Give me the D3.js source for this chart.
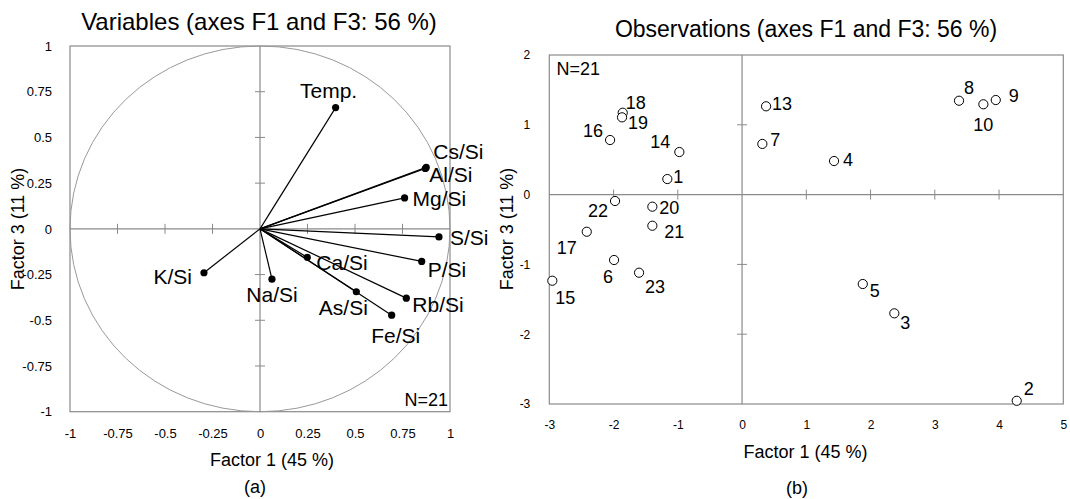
<!DOCTYPE html>
<html>
<head>
<meta charset="utf-8">
<script src="https://cdn.jsdelivr.net/npm/d3@7"></script>
<style>
  body { margin: 0; background: #fff; }
  svg { display: block; font-family: "Liberation Sans", Arial, sans-serif; }
</style>
</head>
<body>
<div id="chart"></div>
<script>
// ---- data ----
const varNames = ["Temp.", "Cs/Si", "Al/Si", "Mg/Si", "S/Si", "P/Si", "Rb/Si", "Fe/Si", "As/Si", "Ca/Si", "Na/Si", "K/Si"];
const varF1 = [0.398, 0.875, 0.870, 0.761, 0.942, 0.851, 0.770, 0.693, 0.507, 0.249, 0.063, -0.295];
const varF3 = [0.663, 0.336, 0.330, 0.169, -0.044, -0.178, -0.379, -0.472, -0.344, -0.156, -0.275, -0.240];

const obsIds = ["1", "2", "3", "4", "5", "6", "7", "8", "9", "10", "13", "14", "15", "16", "17", "18", "19", "20", "21", "22", "23"];
const obsF1 = [-1.163, 4.275, 2.370, 1.432, 1.879, -1.992, 0.316, 3.377, 3.949, 3.756, 0.374, -0.976, -2.953, -2.054, -2.417, -1.857, -1.868, -1.396, -1.396, -1.977, -1.603];
const obsF3 = [0.223, -2.954, -1.701, 0.481, -1.281, -0.937, 0.726, 1.345, 1.355, 1.294, 1.265, 0.610, -1.234, 0.782, -0.532, 1.173, 1.107, -0.173, -0.446, -0.092, -1.119];

const leftTicks = [-1, -0.75, -0.5, -0.25, 0, 0.25, 0.5, 0.75, 1];
const rightXTicks = [-3, -2, -1, 0, 1, 2, 3, 4, 5];
const rightYTicks = [-3, -2, -1, 0, 1, 2];

// label placement (dx, dy, anchor) for each variable / observation
const varLabelPos = {
  "Temp.": [-7, -10, "middle"], "Cs/Si": [7, -8, "start"], "Al/Si": [4, 13, "start"],
  "Mg/Si": [8, 8, "start"], "S/Si": [11, 8, "start"], "P/Si": [6, 16, "start"],
  "Rb/Si": [6, 14, "start"], "Fe/Si": [4, 28, "middle"], "As/Si": [-13, 23, "middle"],
  "Ca/Si": [9, 13, "start"], "Na/Si": [0, 23, "middle"], "K/Si": [-12, 11, "end"]
};
const obsLabelPos = {
  "1": [6, 4, "start"], "2": [7, -6, "start"], "3": [6, 16, "start"], "4": [9, 5, "start"],
  "5": [7, 13, "start"], "6": [-1, 23, "end"], "7": [8, 2, "start"], "8": [5, -7, "start"],
  "9": [13, 2, "start"], "10": [0, 27, "middle"], "13": [6, 4, "start"], "14": [-9, -4, "end"],
  "15": [3, 23, "start"], "16": [-7, -3, "end"], "17": [-10, 22, "end"], "18": [3, -4, "start"],
  "19": [6, 12, "start"], "20": [7, 7, "start"], "21": [12, 12, "start"], "22": [-7, 16, "end"],
  "23": [6, 20, "start"]
};

const width = 1070, height = 499;
const grey = "#8a8a8a";

const svg = d3.select("#chart").append("svg")
  .attr("width", width)
  .attr("height", height);

//////////////////////////////////////
////////// (a) Variables /////////////
//////////////////////////////////////
const xL = d3.scaleLinear().domain([-1, 1]).range([70, 450]);
const yL = d3.scaleLinear().domain([-1, 1]).range([411.7, 46]);

const gL = svg.append("g");

gL.append("rect")
  .attr("x", xL(-1)).attr("y", yL(1))
  .attr("width", xL(1) - xL(-1)).attr("height", yL(-1) - yL(1))
  .attr("fill", "none").attr("stroke", grey).attr("stroke-width", 1.2);

// correlation circle
gL.append("ellipse")
  .attr("cx", xL(0)).attr("cy", yL(0))
  .attr("rx", xL(1) - xL(0)).attr("ry", yL(0) - yL(1))
  .attr("fill", "none").attr("stroke", "#999").attr("stroke-width", 1);

// zero lines + ticks
gL.append("line").attr("x1", xL(-1)).attr("x2", xL(1)).attr("y1", yL(0)).attr("y2", yL(0))
  .attr("stroke", grey).attr("stroke-width", 1.2);
gL.append("line").attr("x1", xL(0)).attr("x2", xL(0)).attr("y1", yL(1)).attr("y2", yL(-1))
  .attr("stroke", grey).attr("stroke-width", 1.2);
gL.selectAll(".xtick").data(leftTicks.filter(d => Math.abs(d) !== 1 && d !== 0)).join("line")
  .attr("x1", d => xL(d)).attr("x2", d => xL(d))
  .attr("y1", yL(0) - 5).attr("y2", yL(0) + 5).attr("stroke", grey);
gL.selectAll(".ytick").data(leftTicks.filter(d => Math.abs(d) !== 1 && d !== 0)).join("line")
  .attr("y1", d => yL(d)).attr("y2", d => yL(d))
  .attr("x1", xL(0) - 5).attr("x2", xL(0) + 5).attr("stroke", grey);

// tick labels via axes
const axL = gL.append("g").attr("transform", `translate(0,${yL(-1) + 14})`)
  .call(d3.axisBottom(xL).tickValues(leftTicks).tickFormat(d => String(d)).tickSize(0));
const ayL = gL.append("g").attr("transform", `translate(${xL(-1) - 15},0)`)
  .call(d3.axisLeft(yL).tickValues(leftTicks).tickFormat(d => String(d)).tickSize(0));
[axL, ayL].forEach(a => {
  a.select(".domain").remove();
  a.selectAll("text").attr("font-size", 13).attr("fill", "#000")
    .attr("font-family", "'Liberation Sans', Arial, sans-serif");
});

// vectors
const vars = varNames.map((n, i) => ({ name: n, x: varF1[i], y: varF3[i] }));
gL.selectAll(".vec").data(vars).join("line")
  .attr("x1", xL(0)).attr("y1", yL(0))
  .attr("x2", d => xL(d.x)).attr("y2", d => yL(d.y))
  .attr("stroke", "#000").attr("stroke-width", 1.2);
gL.selectAll(".dot").data(vars).join("circle")
  .attr("cx", d => xL(d.x)).attr("cy", d => yL(d.y)).attr("r", 3.6).attr("fill", "#000");
gL.selectAll(".vlab").data(vars).join("text")
  .attr("x", d => xL(d.x) + varLabelPos[d.name][0])
  .attr("y", d => yL(d.y) + varLabelPos[d.name][1])
  .attr("text-anchor", d => varLabelPos[d.name][2])
  .attr("font-size", 21)
  .text(d => d.name);

gL.append("text").attr("x", 448).attr("y", 405.5).attr("text-anchor", "end")
  .attr("font-size", 18).text("N=21");

gL.append("text").attr("x", 259).attr("y", 30).attr("text-anchor", "middle")
  .attr("font-size", 24).text("Variables (axes F1 and F3: 56 %)");
gL.append("text").attr("x", 272).attr("y", 466).attr("text-anchor", "middle")
  .attr("font-size", 18).text("Factor 1 (45 %)");
gL.append("text").attr("transform", `translate(24,229) rotate(-90)`).attr("text-anchor", "middle")
  .attr("font-size", 18).text("Factor 3 (11 %)");
gL.append("text").attr("x", 255).attr("y", 493).attr("text-anchor", "middle")
  .attr("font-size", 18).text("(a)");

//////////////////////////////////////
///////// (b) Observations ///////////
//////////////////////////////////////
const xR = d3.scaleLinear().domain([-3, 5]).range([549.3, 1063.3]);
const yR = d3.scaleLinear().domain([-3, 2]).range([404, 55]);

const gR = svg.append("g");

gR.append("rect")
  .attr("x", xR(-3)).attr("y", yR(2))
  .attr("width", xR(5) - xR(-3)).attr("height", yR(-3) - yR(2))
  .attr("fill", "none").attr("stroke", grey).attr("stroke-width", 1.2);

gR.append("line").attr("x1", xR(-3)).attr("x2", xR(5)).attr("y1", yR(0)).attr("y2", yR(0))
  .attr("stroke", grey).attr("stroke-width", 1.2);
gR.append("line").attr("x1", xR(0)).attr("x2", xR(0)).attr("y1", yR(2)).attr("y2", yR(-3))
  .attr("stroke", grey).attr("stroke-width", 1.2);
gR.selectAll(".xtick").data(rightXTicks.filter(d => d > -3 && d < 5 && d !== 0)).join("line")
  .attr("x1", d => xR(d)).attr("x2", d => xR(d))
  .attr("y1", yR(0) - 5).attr("y2", yR(0) + 5).attr("stroke", grey);
gR.selectAll(".ytick").data(rightYTicks.filter(d => d > -3 && d < 2 && d !== 0)).join("line")
  .attr("y1", d => yR(d)).attr("y2", d => yR(d))
  .attr("x1", xR(0) - 5).attr("x2", xR(0) + 5).attr("stroke", grey);

const axR = gR.append("g").attr("transform", `translate(0,${yR(-3) + 13})`)
  .call(d3.axisBottom(xR).tickValues(rightXTicks).tickFormat(d => String(d)).tickSize(0));
const ayR = gR.append("g").attr("transform", `translate(${xR(-3) - 16},0)`)
  .call(d3.axisLeft(yR).tickValues(rightYTicks).tickFormat(d => String(d)).tickSize(0));
[axR, ayR].forEach(a => {
  a.select(".domain").remove();
  a.selectAll("text").attr("font-size", 12).attr("fill", "#000")
    .attr("font-family", "'Liberation Sans', Arial, sans-serif");
});

const obs = obsIds.map((id, i) => ({ id: id, x: obsF1[i], y: obsF3[i] }));
gR.selectAll(".obs").data(obs).join("circle")
  .attr("cx", d => xR(d.x)).attr("cy", d => yR(d.y)).attr("r", 4.6)
  .attr("fill", "#fff").attr("stroke", "#000").attr("stroke-width", 1);
gR.selectAll(".olab").data(obs).join("text")
  .attr("x", d => xR(d.x) + obsLabelPos[d.id][0])
  .attr("y", d => yR(d.y) + obsLabelPos[d.id][1])
  .attr("text-anchor", d => obsLabelPos[d.id][2])
  .attr("font-size", 18)
  .text(d => d.id);

gR.append("text").attr("x", 556.5).attr("y", 75).attr("font-size", 18).text("N=21");

gR.append("text").attr("x", 806).attr("y", 37).attr("text-anchor", "middle")
  .attr("font-size", 23).text("Observations (axes F1 and F3: 56 %)");
gR.append("text").attr("x", 805.5).attr("y", 458).attr("text-anchor", "middle")
  .attr("font-size", 18).text("Factor 1 (45 %)");
gR.append("text").attr("transform", `translate(513,229) rotate(-90)`).attr("text-anchor", "middle")
  .attr("font-size", 18).text("Factor 3 (11 %)");
gR.append("text").attr("x", 797).attr("y", 494).attr("text-anchor", "middle")
  .attr("font-size", 18).text("(b)");
</script>
</body>
</html>
